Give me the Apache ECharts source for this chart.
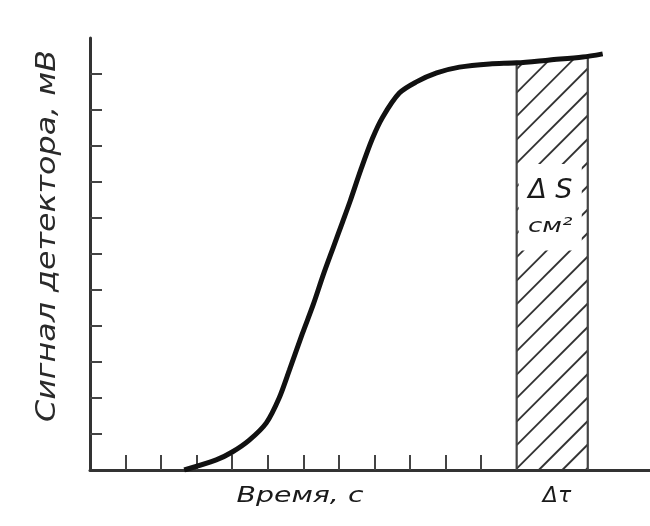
<!DOCTYPE html>
<html><head><meta charset="utf-8">
<script src="https://cdn.jsdelivr.net/npm/echarts@6/dist/echarts.min.js"></script>
<style>html,body{margin:0;padding:0;background:#fff}#c{width:650px;height:526px}</style>
</head><body><div id="c"></div>
<script>
// Detector signal curve (time in tick units, signal in tick units)
var curveX = [2.65, 3.55, 4.0, 4.48, 4.96, 5.32, 5.61, 5.97, 6.28, 6.56, 6.84, 7.1, 7.32, 7.62, 7.94, 8.23, 8.7, 9.18, 9.75, 10.39, 11.24, 12.0, 12.93, 13.86, 14.42];
var curveY = [0, 0.28, 0.5, 0.83, 1.31, 2.0, 2.78, 3.78, 4.6, 5.42, 6.18, 6.88, 7.48, 8.35, 9.2, 9.8, 10.47, 10.78, 11.03, 11.19, 11.28, 11.31, 11.39, 11.47, 11.56];
// Hatched interval Δτ
var hatchStart = [12];
var hatchEnd = [14];
var hatchTopLeft = [11.31];
var hatchTopRight = [11.5];
// Tick positions
var xTicks = [1, 2, 3, 4, 5, 6, 7, 8, 9, 10, 11];
var yTicks = [1, 2, 3, 4, 5, 6, 7, 8, 9, 10, 11];
// Texts
var yTitle = 'Сигнал детектора, мВ';
var xTitle = 'Время, с';
var intervalLabel = 'Δτ';
var areaLabel1 = 'Δ S';
var areaLabel2 = 'см²';

var curveData = curveX.map(function (x, i) { return [x, curveY[i]]; });
var hatchData = hatchStart.map(function (s, i) { return [s, hatchEnd[i], hatchTopLeft[i], hatchTopRight[i]]; });

var chart = echarts.init(document.getElementById('c'), null, {renderer: 'canvas'});
var ink = '#1a1a1a';
chart.setOption({
  animation: false,
  backgroundColor: '#fff',
  grid: {left: 90, right: 0, top: 38, bottom: 56},
  xAxis: {
    type: 'value', min: 0, max: 15.75,
    axisLine: {show: true, onZero: false, lineStyle: {color: '#333', width: 3}},
    axisTick: {show: true, inside: true, length: 15, customValues: xTicks, lineStyle: {color: '#444', width: 2}},
    axisLabel: {show: false},
    splitLine: {show: false}
  },
  yAxis: {
    type: 'value', min: 0, max: 12,
    axisLine: {show: true, onZero: false, lineStyle: {color: '#333', width: 3}},
    axisTick: {show: true, inside: true, length: 12, customValues: yTicks, lineStyle: {color: '#444', width: 2}},
    axisLabel: {show: false},
    splitLine: {show: false}
  },
  graphic: [
    {type: 'text', x: 300, y: 497, scaleX: 1.35,
     style: {text: xTitle, font: 'italic 21px "DejaVu Sans"', fill: ink, align: 'center', verticalAlign: 'middle'}},
    {type: 'text', x: 557, y: 496,
     style: {text: intervalLabel, font: 'italic 22px "DejaVu Sans"', fill: ink, align: 'center', verticalAlign: 'middle'}},
    {type: 'text', x: 48, y: 236, rotation: Math.PI / 2, scaleX: 1.22,
     style: {text: yTitle, font: 'italic 26px "DejaVu Sans"', fill: '#2a2a2a', align: 'center', verticalAlign: 'middle'}}
  ],
  series: [
    {
      type: 'custom',
      data: hatchData,
      encode: {x: [0, 1], y: [2, 3]},
      z: 1,
      renderItem: function (params, api) {
        var x0 = api.value(0), x1 = api.value(1), t0 = api.value(2), t1 = api.value(3);
        var pBL = api.coord([x0, 0]), pTL = api.coord([x0, t0]);
        var pBR = api.coord([x1, 0]), pTR = api.coord([x1, t1]);
        var L = pBL[0], R = pBR[0], B = pBL[1];
        var a = pTL[1], m = (pTR[1] - pTL[1]) / (R - L);
        var children = [];
        var step = 23.5;
        var topMin = Math.min(pTL[1], pTR[1]);
        for (var c = B + R - 2; c > topMin + L - step; c -= step) {
          var xs = Math.max(L, c - B);
          var xe = Math.min(R, (c - a + m * L) / (1 + m));
          if (xe > xs) {
            children.push({type: 'line', shape: {x1: xs, y1: c - xs, x2: xe, y2: c - xe},
              style: {stroke: '#333', lineWidth: 1.8}});
          }
        }
        children.push({type: 'line', shape: {x1: L, y1: B, x2: L, y2: pTL[1]}, style: {stroke: '#444', lineWidth: 2.2}});
        children.push({type: 'line', shape: {x1: R, y1: B, x2: R, y2: pTR[1]}, style: {stroke: '#444', lineWidth: 2.2}});
        var wTop = api.coord([x0, 8.5])[1], wBot = api.coord([x0, 6.1])[1];
        children.push({type: 'rect', shape: {x: L + 2, y: wTop, width: R - L - 8, height: wBot - wTop}, style: {fill: '#fff'}});
        var cx = (L + R) / 2;
        children.push({type: 'text', x: cx - 2, y: api.coord([x0, 7.75])[1],
          style: {text: areaLabel1, font: 'italic 27px "DejaVu Sans"', fill: ink, align: 'center', verticalAlign: 'middle'}});
        children.push({type: 'text', x: cx - 2, y: api.coord([x0, 6.75])[1], scaleX: 1.3,
          style: {text: areaLabel2, font: 'italic 20px "DejaVu Sans"', fill: ink, align: 'center', verticalAlign: 'middle'}});
        return {type: 'group', children: children};
      }
    },
    {
      type: 'line',
      data: curveData,
      z: 3,
      smooth: 0.3,
      showSymbol: false,
      lineStyle: {color: '#111', width: 5}
    }
  ]
});
</script>
</body></html>
